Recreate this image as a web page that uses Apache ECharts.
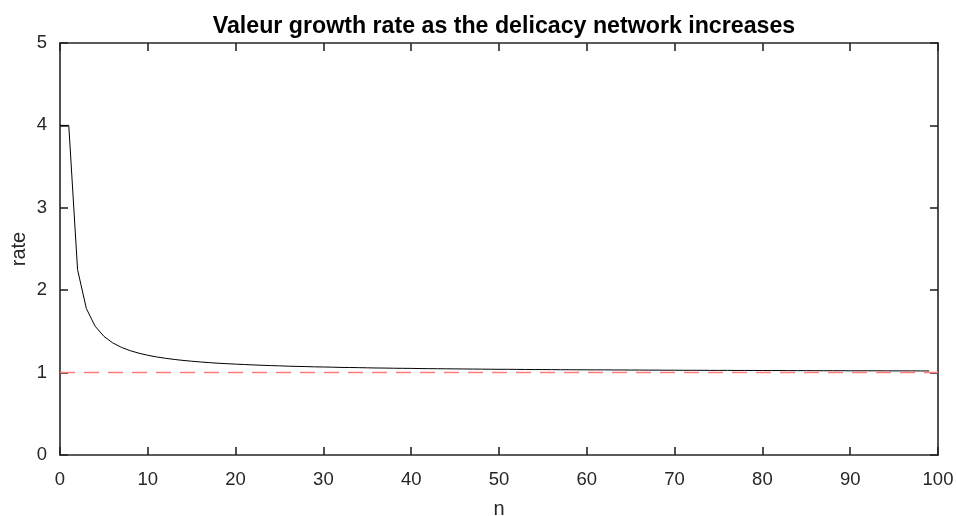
<!DOCTYPE html>
<html>
<head>
<meta charset="utf-8">
<script src="https://cdn.jsdelivr.net/npm/echarts@6/dist/echarts.min.js"></script>
<style>html,body{margin:0;padding:0;background:#fff;}#main{width:956px;height:516px;}</style>
</head>
<body>
<div id="main"></div>
<script>
var titleText = 'Valeur growth rate as the delicacy network increases';
var xName = 'n';
var yName = 'rate';
var nValues = [];
for (var i = 0; i <= 99; i++) nValues.push(i);
var rateValues = [
  4.000, 4.000, 2.250, 1.778, 1.563, 1.440, 1.361, 1.306, 1.266, 1.235,
  1.210, 1.190, 1.174, 1.160, 1.148, 1.138, 1.129, 1.121, 1.114, 1.108,
  1.103, 1.098, 1.093, 1.089, 1.085, 1.082, 1.078, 1.075, 1.073, 1.070,
  1.068, 1.066, 1.063, 1.062, 1.060, 1.058, 1.056, 1.055, 1.053, 1.052,
  1.051, 1.049, 1.048, 1.047, 1.046, 1.045, 1.044, 1.043, 1.042, 1.041,
  1.040, 1.040, 1.039, 1.038, 1.037, 1.037, 1.036, 1.035, 1.035, 1.034,
  1.034, 1.033, 1.033, 1.032, 1.032, 1.031, 1.031, 1.030, 1.030, 1.029,
  1.029, 1.028, 1.028, 1.028, 1.027, 1.027, 1.027, 1.026, 1.026, 1.026,
  1.025, 1.025, 1.025, 1.024, 1.024, 1.024, 1.023, 1.023, 1.023, 1.023,
  1.022, 1.022, 1.022, 1.022, 1.021, 1.021, 1.021, 1.021, 1.020, 1.020
];
var refX = [0, 100];
var refY = [1, 1];
var xTicks = [0, 10, 20, 30, 40, 50, 60, 70, 80, 90, 100];
var yTicks = [0, 1, 2, 3, 4, 5];

var axisColor = '#262626';
var font = 'Liberation Sans, Arial, Helvetica, sans-serif';
var chart = echarts.init(document.getElementById('main'), null, {renderer: 'canvas'});
function xAx(pos, show) {
  return {
    type: 'value', position: pos, min: xTicks[0], max: xTicks[xTicks.length - 1], interval: 10,
    name: show ? xName : '', nameLocation: 'middle', nameGap: 44, nameMoveOverlap: false,
    nameTextStyle: {fontFamily: font, fontSize: 20, color: axisColor},
    axisLine: {show: true, onZero: false, lineStyle: {color: axisColor, width: 1.6}},
    axisTick: {show: true, inside: true, length: 8, lineStyle: {color: axisColor, width: 1.6}},
    axisLabel: {show: show, fontFamily: font, fontSize: 18.5, color: axisColor, margin: 15},
    splitLine: {show: false}
  };
}
function yAx(pos, show) {
  return {
    type: 'value', position: pos, min: yTicks[0], max: yTicks[yTicks.length - 1], interval: 1,
    name: show ? yName : '', nameLocation: 'middle', nameGap: 31, nameRotate: 90, nameMoveOverlap: false,
    nameTextStyle: {fontFamily: font, fontSize: 20, color: axisColor},
    axisLine: {show: true, onZero: false, lineStyle: {color: axisColor, width: 1.6}},
    axisTick: {show: true, inside: true, length: 8, lineStyle: {color: axisColor, width: 1.6}},
    axisLabel: {show: show, fontFamily: font, fontSize: 18.5, color: axisColor, margin: 13},
    splitLine: {show: false}
  };
}
chart.setOption({
  animation: false,
  backgroundColor: '#ffffff',
  title: {
    text: titleText, left: 499, top: 10, textAlign: 'center',
    textStyle: {fontFamily: font, fontSize: 23.2, fontWeight: 'bold', color: '#000'}
  },
  grid: {left: 60, right: 18, top: 43, bottom: 61, containLabel: false, outerBoundsMode: 'none'},
  xAxis: [xAx('bottom', true), xAx('top', false)],
  yAxis: [yAx('left', true), yAx('right', false)],
  series: [
    {
      type: 'line', xAxisIndex: 0, yAxisIndex: 0,
      data: nValues.map(function (n, i) { return [n, rateValues[i]]; }),
      showSymbol: false, symbol: 'none',
      lineStyle: {color: '#000000', width: 1}
    },
    {
      type: 'line', xAxisIndex: 0, yAxisIndex: 0,
      data: refX.map(function (x, i) { return [x, refY[i]]; }),
      showSymbol: false, symbol: 'none',
      lineStyle: {color: '#ff7b7b', width: 1.5, type: [15, 9]}
    }
  ]
});
</script>
</body>
</html>
